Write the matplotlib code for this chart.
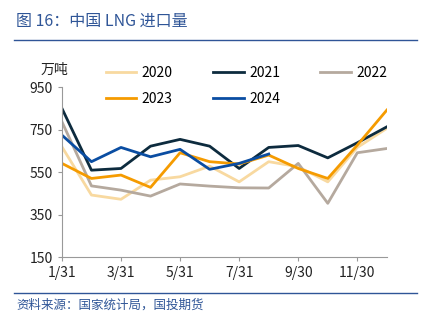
import matplotlib
matplotlib.use("Agg")
import matplotlib.pyplot as plt
from matplotlib.lines import Line2D

plt.rcParams['font.family'] = ['Noto Sans CJK SC', 'DejaVu Sans']

# monthly LNG imports, 10k tonnes
months = list(range(12))
tick_pos = [0, 2, 4, 6, 8, 10]
tick_labels = ["1/31", "3/31", "5/31", "7/31", "9/30", "11/30"]

y2020 = [669, 442, 422, 512, 528, 578, 504, 599, 575, 504, 666, 756]
y2021 = [850, 559, 567, 672, 704, 672, 567, 666, 675, 617, 688, 763]
y2022 = [787, 485, 465, 437, 494, 484, 476, 475, 591, 403, 641, 661]
y2023 = [591, 520, 536, 478, 641, 599, 588, 630, 567, 520, 677, 842]
y2024 = [724, 599, 666, 622, 657, 563, 591, 635]

series = [("2020", y2020, "#F8D9A0"),
          ("2021", y2021, "#0D2B3E"),
          ("2022", y2022, "#B5A99E"),
          ("2023", y2023, "#F59B00"),
          ("2024", y2024, "#0A4DA2")]

blue = "#2F5597"

fig = plt.figure(figsize=(4.27, 3.25), dpi=100)
ax = fig.add_axes([0.145, 0.209, 0.761, 0.523])

for name, vals, col in series:
    ax.plot(months[:len(vals)], vals, color=col, lw=2.0, label=name)

ax.set_xlim(0, 11)
ax.set_ylim(150, 950)
ax.set_yticks([150, 350, 550, 750, 950])
ax.set_xticks(tick_pos)
ax.set_xticklabels(tick_labels)
ax.tick_params(labelsize=10, colors="#222222", length=3, color="#999999")
for s in ["top", "right"]:
    ax.spines[s].set_visible(False)
for s in ["left", "bottom"]:
    ax.spines[s].set_color("#999999")

# legend layout: 3 in the first row, 2 in the second
handles = {n: Line2D([], [], color=c, lw=2.0) for n, v, c in series}
order = ["2020", "2023", "2021", "2024", "2022"]
fig.legend([handles[n] for n in order], order, ncol=3, frameon=False,
           fontsize=10, loc="upper left", bbox_to_anchor=(0.218, 0.835),
           handlelength=2.2, columnspacing=2.9, labelspacing=0.85, handletextpad=0.4)

fig.text(0.094, 0.785, "万吨", fontsize=10, color="#222222", va="center")

fig.text(0.038, 0.935, "图 16：中国 LNG 进口量", fontsize=11.5, color=blue, va="center")
fig.add_artist(Line2D([0.033, 0.977], [0.877, 0.877], color=blue, lw=1.0))
fig.add_artist(Line2D([0.033, 0.977], [0.100, 0.100], color=blue, lw=1.0))
fig.text(0.038, 0.062, "资料来源：国家统计局，国投期货", fontsize=9, color=blue,
         style="italic", va="center")

fig.savefig("out.png", dpi=100)
